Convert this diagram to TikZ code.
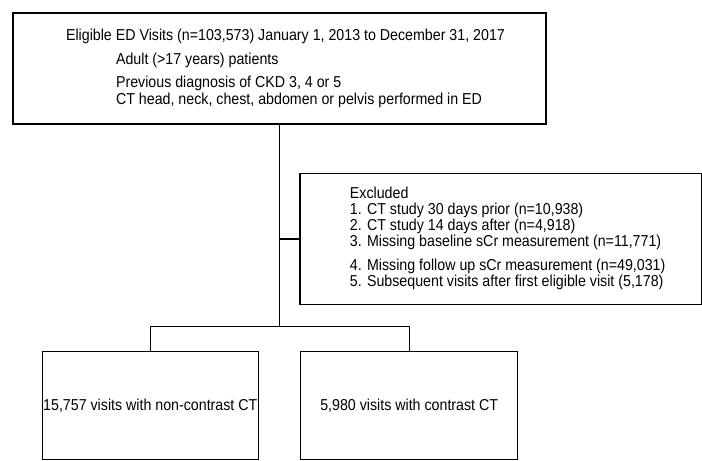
\documentclass[tikz,border=0pt]{standalone}
\usepackage{fontspec}
\newfontfamily\chartfont{Liberation Sans}[FakeStretch=0.9]
\usetikzlibrary{positioning}

\begin{document}
\begin{tikzpicture}[
    block/.style={rectangle, draw, line width=1.4pt, inner sep=0pt, font=\chartfont\fontsize{15.8}{16}\selectfont},
    link/.style={line width=1.4pt}
]

% Eligible visits
\node[block, minimum width=533pt, minimum height=111pt, align=left] (elig) at (0,0) {\hspace*{12pt}Eligible ED Visits (n=103,573) January 1, 2013 to December 31, 2017\\[8pt]
\hspace*{62pt}Adult (>17 years) patients\\[7pt]
\hspace*{62pt}Previous diagnosis of CKD 3, 4 or 5\\[1.7pt]
\hspace*{62pt}CT head, neck, chest, abdomen or pelvis performed in ED};

% Exclusions
\node[block, minimum width=401pt, minimum height=131pt, align=left, below right=48pt and 20pt of elig.south] (excl) {\hspace*{14pt}Excluded\\
\hspace*{14pt}1. CT study 30 days prior (n=10,938)\\
\hspace*{14pt}2. CT study 14 days after (n=4,918)\\
\hspace*{14pt}3. Missing baseline sCr measurement (n=11,771)\\[8pt]
\hspace*{14pt}4. Missing follow up sCr measurement (n=49,031)\\
\hspace*{14pt}5. Subsequent visits after first eligible visit (5,178)};

\coordinate[below=202pt of elig.south] (split);

% Study groups
\node[block, minimum width=216pt, minimum height=108pt, below left=24pt and 20.5pt of split] (nc) {15,757 visits with non-contrast CT};
\node[block, minimum width=217pt, minimum height=108pt, below right=24pt and 20.5pt of split] (ct) {5,980 visits with contrast CT};

\draw[link] (elig.south) -- (split);
\draw[link] (excl.west) -- (excl.west -| split);
\draw[link] (nc.north) |- (split) -| (ct.north);

\useasboundingbox ([xshift=-279.5pt, yshift=68.5pt]elig.center) rectangle ++(702pt,-456pt);

\end{tikzpicture}
\end{document}
